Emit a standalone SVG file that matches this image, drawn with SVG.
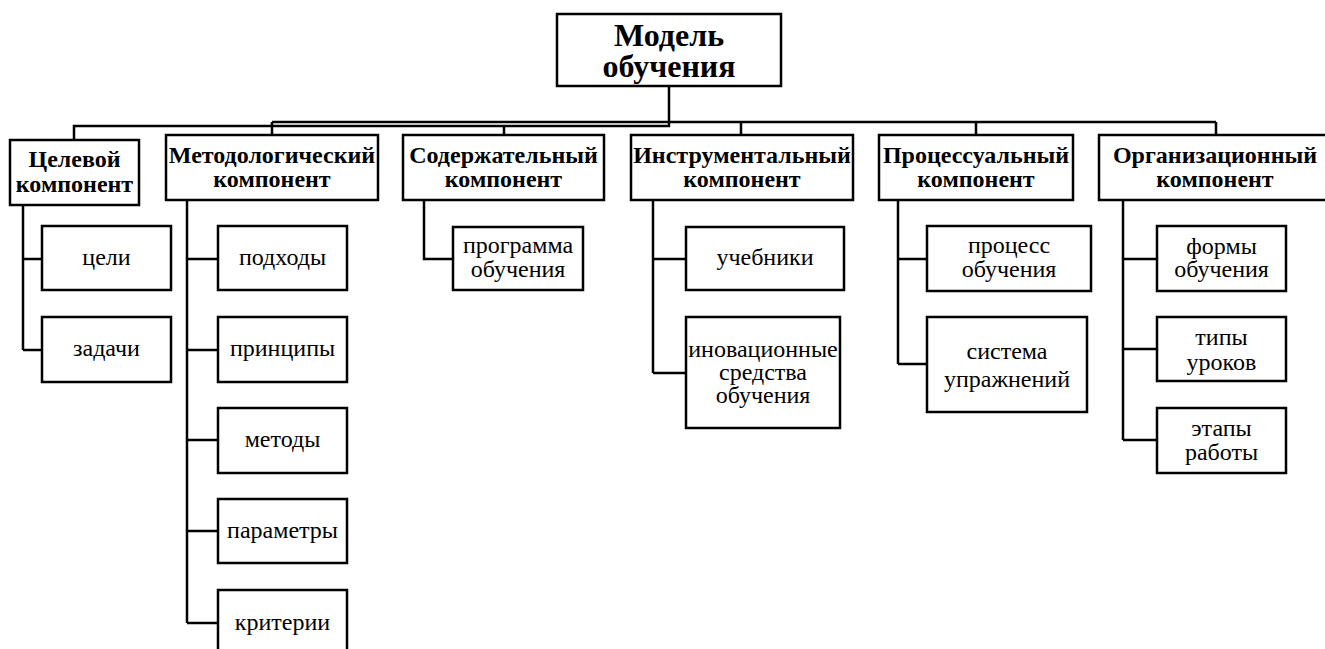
<svg xmlns="http://www.w3.org/2000/svg" width="1325" height="649" viewBox="0 0 1325 649">
<rect x="0" y="0" width="1325" height="649" fill="#fff"/>
<g id="connectors" fill="none" stroke="#000" stroke-width="2.5">
<path d="M669 86V122M272 122H1216M669 122V126H74V140M272 122V135M504 126V135M741 122V135M976 122V135M1216 122V135"/>
<path d="M23 205V350M23 259H42M23 350H42"/>
<path d="M187 200V623M187 259H218M187 350H218M187 440H218M187 531H218M187 623H218"/>
<path d="M424 200V259H453"/>
<path d="M653 200V373M653 259H686M653 373H686"/>
<path d="M898 200V364M898 259H927M898 364H927"/>
<path d="M1123 200V440M1123 259H1157M1123 349H1157M1123 440H1157"/>
</g>
<g id="root"><rect x="557" y="14" width="224" height="72" fill="#fff" stroke="#000" stroke-width="2.5"/><text font-family="'Liberation Serif', serif" font-size="32" font-weight="bold" text-anchor="middle" x="669" y="46">Модель</text><text font-family="'Liberation Serif', serif" font-size="32" font-weight="bold" text-anchor="middle" x="669" y="77">обучения</text></g>
<g id="h1"><rect x="10" y="140" width="129" height="65" fill="#fff" stroke="#000" stroke-width="2.5"/><text font-family="'Liberation Serif', serif" font-size="24" font-weight="bold" text-anchor="middle" x="74.5" y="167">Целевой</text><text font-family="'Liberation Serif', serif" font-size="24" font-weight="bold" text-anchor="middle" x="74.5" y="192">компонент</text></g>
<g id="h2"><rect x="166" y="135" width="212" height="65" fill="#fff" stroke="#000" stroke-width="2.5"/><text font-family="'Liberation Serif', serif" font-size="24" font-weight="bold" text-anchor="middle" x="272" y="163">Методологический</text><text font-family="'Liberation Serif', serif" font-size="24" font-weight="bold" text-anchor="middle" x="272" y="187">компонент</text></g>
<g id="h3"><rect x="403" y="135" width="201" height="65" fill="#fff" stroke="#000" stroke-width="2.5"/><text font-family="'Liberation Serif', serif" font-size="24" font-weight="bold" text-anchor="middle" x="503.5" y="163">Содержательный</text><text font-family="'Liberation Serif', serif" font-size="24" font-weight="bold" text-anchor="middle" x="503.5" y="187">компонент</text></g>
<g id="h4"><rect x="631" y="135" width="222" height="65" fill="#fff" stroke="#000" stroke-width="2.5"/><text font-family="'Liberation Serif', serif" font-size="24" font-weight="bold" text-anchor="middle" x="742" y="163">Инструментальный</text><text font-family="'Liberation Serif', serif" font-size="24" font-weight="bold" text-anchor="middle" x="742" y="187">компонент</text></g>
<g id="h5"><rect x="879" y="135" width="194" height="65" fill="#fff" stroke="#000" stroke-width="2.5"/><text font-family="'Liberation Serif', serif" font-size="24" font-weight="bold" text-anchor="middle" x="976" y="163">Процессуальный</text><text font-family="'Liberation Serif', serif" font-size="24" font-weight="bold" text-anchor="middle" x="976" y="187">компонент</text></g>
<g id="h6"><rect x="1099" y="135" width="228" height="65" fill="#fff" stroke="#000" stroke-width="2.5"/><text font-family="'Liberation Serif', serif" font-size="24" font-weight="bold" text-anchor="middle" x="1215" y="163">Организационный</text><text font-family="'Liberation Serif', serif" font-size="24" font-weight="bold" text-anchor="middle" x="1215" y="187">компонент</text></g>
<g id="n-celi"><rect x="42" y="226" width="129" height="64" fill="#fff" stroke="#000" stroke-width="2.5"/><text font-family="'Liberation Serif', serif" font-size="24" text-anchor="middle" x="106.5" y="265">цели</text></g>
<g id="n-zadachi"><rect x="42" y="317" width="129" height="65" fill="#fff" stroke="#000" stroke-width="2.5"/><text font-family="'Liberation Serif', serif" font-size="24" text-anchor="middle" x="106.5" y="356">задачи</text></g>
<g id="n-podhody"><rect x="218" y="226" width="129" height="64" fill="#fff" stroke="#000" stroke-width="2.5"/><text font-family="'Liberation Serif', serif" font-size="24" text-anchor="middle" x="282.5" y="265">подходы</text></g>
<g id="n-principy"><rect x="218" y="317" width="129" height="65" fill="#fff" stroke="#000" stroke-width="2.5"/><text font-family="'Liberation Serif', serif" font-size="24" text-anchor="middle" x="282.5" y="356">принципы</text></g>
<g id="n-metody"><rect x="218" y="408" width="129" height="65" fill="#fff" stroke="#000" stroke-width="2.5"/><text font-family="'Liberation Serif', serif" font-size="24" text-anchor="middle" x="282.5" y="447">методы</text></g>
<g id="n-parametry"><rect x="218" y="499" width="129" height="64" fill="#fff" stroke="#000" stroke-width="2.5"/><text font-family="'Liberation Serif', serif" font-size="24" text-anchor="middle" x="282.5" y="538">параметры</text></g>
<g id="n-kriterii"><rect x="218" y="590" width="129" height="66" fill="#fff" stroke="#000" stroke-width="2.5"/><text font-family="'Liberation Serif', serif" font-size="24" text-anchor="middle" x="282.5" y="630">критерии</text></g>
<g id="n-programma"><rect x="453" y="227" width="130" height="63" fill="#fff" stroke="#000" stroke-width="2.5"/><text font-family="'Liberation Serif', serif" font-size="24" text-anchor="middle" x="518" y="253">программа</text><text font-family="'Liberation Serif', serif" font-size="24" text-anchor="middle" x="518" y="277">обучения</text></g>
<g id="n-uchebniki"><rect x="686" y="227" width="158" height="63" fill="#fff" stroke="#000" stroke-width="2.5"/><text font-family="'Liberation Serif', serif" font-size="24" text-anchor="middle" x="765" y="265">учебники</text></g>
<g id="n-inov"><rect x="686" y="317" width="154" height="111" fill="#fff" stroke="#000" stroke-width="2.5"/><text font-family="'Liberation Serif', serif" font-size="24" text-anchor="middle" x="763" y="357">иновационные</text><text font-family="'Liberation Serif', serif" font-size="24" text-anchor="middle" x="763" y="380">средства</text><text font-family="'Liberation Serif', serif" font-size="24" text-anchor="middle" x="763" y="403">обучения</text></g>
<g id="n-process"><rect x="927" y="226" width="164" height="65" fill="#fff" stroke="#000" stroke-width="2.5"/><text font-family="'Liberation Serif', serif" font-size="24" text-anchor="middle" x="1009" y="253">процесс</text><text font-family="'Liberation Serif', serif" font-size="24" text-anchor="middle" x="1009" y="277">обучения</text></g>
<g id="n-sistema"><rect x="927" y="317" width="160" height="95" fill="#fff" stroke="#000" stroke-width="2.5"/><text font-family="'Liberation Serif', serif" font-size="24" text-anchor="middle" x="1007" y="359">система</text><text font-family="'Liberation Serif', serif" font-size="24" text-anchor="middle" x="1007" y="387">упражнений</text></g>
<g id="n-formy"><rect x="1157" y="226" width="129" height="65" fill="#fff" stroke="#000" stroke-width="2.5"/><text font-family="'Liberation Serif', serif" font-size="24" text-anchor="middle" x="1221.5" y="254">формы</text><text font-family="'Liberation Serif', serif" font-size="24" text-anchor="middle" x="1221.5" y="277">обучения</text></g>
<g id="n-tipy"><rect x="1157" y="317" width="129" height="64" fill="#fff" stroke="#000" stroke-width="2.5"/><text font-family="'Liberation Serif', serif" font-size="24" text-anchor="middle" x="1221.5" y="345">типы</text><text font-family="'Liberation Serif', serif" font-size="24" text-anchor="middle" x="1221.5" y="370">уроков</text></g>
<g id="n-etapy"><rect x="1157" y="408" width="129" height="65" fill="#fff" stroke="#000" stroke-width="2.5"/><text font-family="'Liberation Serif', serif" font-size="24" text-anchor="middle" x="1221.5" y="436">этапы</text><text font-family="'Liberation Serif', serif" font-size="24" text-anchor="middle" x="1221.5" y="460">работы</text></g>
</svg>
